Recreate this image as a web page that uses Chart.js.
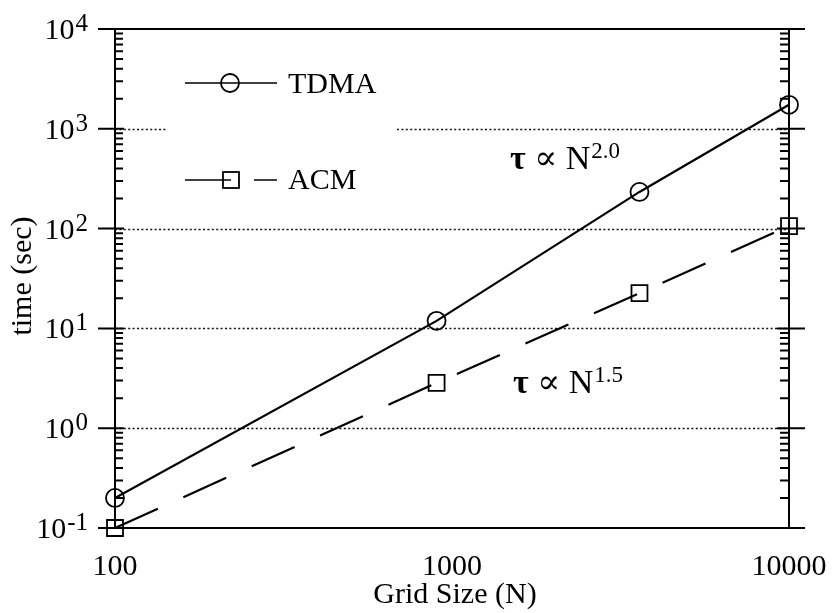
<!DOCTYPE html>
<html>
<head>
<meta charset="utf-8">
<title>TDMA vs ACM timing</title>
<script src="https://cdn.jsdelivr.net/npm/chart.js@4.4.1/dist/chart.umd.min.js"></script>
<style>
  html, body { margin: 0; padding: 0; background: #fff; }
  canvas { display: block; }
</style>
</head>
<body>
<canvas id="timeChart" width="833" height="613"></canvas>
<script>
// values
const gridSize = [100, 900, 3600, 10000];
const tdmaTime = [0.2, 11.9, 233, 1740];
const acmTime = [0.1, 2.84, 22.6, 106];
const xTickValues = [100, 1000, 10000];
const yTickValues = [0.1, 1, 10, 100, 1000, 10000];
const yTickExponents = ['-1', '0', '1', '2', '3', '4'];
const seriesNames = ['TDMA', 'ACM'];

const SERIF = '"Liberation Serif", "Times New Roman", "DejaVu Serif", serif';

function toPoints(xs, ys) {
    return xs.map(function(x, i) { return { x: x, y: ys[i] }; });
}

// draws "10" with a raised exponent, right aligned at rightX
function drawPower(ctx, exp, rightX, baseline) {
    ctx.font = '30px ' + SERIF;
    var wBase = ctx.measureText('10').width;
    ctx.font = '25px ' + SERIF;
    var wExp = ctx.measureText(exp).width;
    var x0 = rightX - wBase - wExp - 1;
    ctx.textAlign = 'left';
    ctx.textBaseline = 'alphabetic';
    ctx.font = '30px ' + SERIF;
    ctx.fillText('10', x0, baseline);
    ctx.font = '25px ' + SERIF;
    ctx.fillText(exp, x0 + wBase + 1, baseline - 8);
}

function drawLaw(ctx, exp, x, baseline) {
    ctx.textAlign = 'left';
    ctx.textBaseline = 'alphabetic';
    ctx.font = 'bold 34px ' + SERIF;
    ctx.fillText('\u03C4', x, baseline);
    var w = ctx.measureText('\u03C4').width;
    ctx.font = '34px ' + SERIF;
    ctx.fillText(' \u221D N', x + w, baseline);
    w += ctx.measureText(' \u221D N').width;
    ctx.font = '23px ' + SERIF;
    ctx.fillText(exp, x + w + 1, baseline - 11);
}

const paperAxes = {
    id: 'paperAxes',
    beforeDatasetsDraw: function(chart) {
        var ctx = chart.ctx;
        var area = chart.chartArea;
        var yScale = chart.scales.y;
        ctx.save();
        ctx.strokeStyle = '#111';
        ctx.lineWidth = 1.7;
        ctx.setLineDash([2, 2.4]);
        yTickValues.forEach(function(v) {
            if (v <= yTickValues[0] || v >= yTickValues[yTickValues.length - 1]) return;
            var py = Math.round(yScale.getPixelForValue(v)) + 0.5;
            ctx.beginPath();
            if (v === 1000) {
                // the legend sits in this gap
                ctx.moveTo(area.left, py); ctx.lineTo(167, py);
                ctx.moveTo(397, py); ctx.lineTo(area.right, py);
            } else {
                ctx.moveTo(area.left, py); ctx.lineTo(area.right, py);
            }
            ctx.stroke();
        });
        ctx.restore();
    },
    afterDraw: function(chart) {
        var ctx = chart.ctx;
        var area = chart.chartArea;
        var xScale = chart.scales.x;
        var yScale = chart.scales.y;
        ctx.save();
        ctx.strokeStyle = '#000';
        ctx.fillStyle = '#000';
        ctx.lineWidth = 2;

        // frame
        ctx.beginPath();
        ctx.moveTo(area.left - 17, area.top); ctx.lineTo(area.right + 16, area.top);
        ctx.moveTo(area.left - 17, area.bottom); ctx.lineTo(area.right + 16, area.bottom);
        ctx.moveTo(area.left, area.top); ctx.lineTo(area.left, area.bottom);
        ctx.moveTo(area.right, area.top); ctx.lineTo(area.right, area.bottom);
        ctx.stroke();

        // major and minor y ticks on both sides
        ctx.beginPath();
        yTickValues.forEach(function(v, i) {
            var py = yScale.getPixelForValue(v);
            ctx.moveTo(area.left - 17, py); ctx.lineTo(area.left + 9, py);
            ctx.moveTo(area.right - 12, py); ctx.lineTo(area.right + 16, py);
            if (i < yTickValues.length - 1) {
                for (var k = 2; k <= 9; k++) {
                    var my = yScale.getPixelForValue(v * k);
                    ctx.moveTo(area.left, my); ctx.lineTo(area.left + 8, my);
                    ctx.moveTo(area.right - 9, my); ctx.lineTo(area.right, my);
                }
            }
        });
        ctx.stroke();

        // y tick labels
        yTickValues.forEach(function(v, i) {
            drawPower(ctx, yTickExponents[i], 88, yScale.getPixelForValue(v) + 10);
        });

        // x tick labels
        ctx.font = '30px ' + SERIF;
        ctx.textAlign = 'center';
        ctx.textBaseline = 'alphabetic';
        xTickValues.forEach(function(v) {
            ctx.fillText(String(v), xScale.getPixelForValue(v), 575);
        });

        // axis titles
        ctx.fillText('Grid Size (N)', 455, 603);
        ctx.save();
        ctx.translate(31, 276);
        ctx.rotate(-Math.PI / 2);
        ctx.fillText('time (sec)', 0, 0);
        ctx.restore();

        // legend
        ctx.lineWidth = 1.6;
        ctx.beginPath();
        ctx.moveTo(185, 83); ctx.lineTo(277, 83);
        ctx.stroke();
        ctx.lineWidth = 1.8;
        ctx.beginPath();
        ctx.arc(230, 83, 9, 0, Math.PI * 2);
        ctx.stroke();
        ctx.lineWidth = 1.6;
        ctx.beginPath();
        ctx.moveTo(185, 180); ctx.lineTo(231, 180);
        ctx.moveTo(254, 180); ctx.lineTo(277, 180);
        ctx.stroke();
        ctx.lineWidth = 1.8;
        ctx.strokeRect(223, 172, 16, 16);
        ctx.font = '30px ' + SERIF;
        ctx.textAlign = 'left';
        ctx.fillText(seriesNames[0], 288, 93);
        ctx.fillText(seriesNames[1], 288, 189);

        // scaling laws
        drawLaw(ctx, '2.0', 510, 169);
        drawLaw(ctx, '1.5', 513, 393);

        ctx.restore();
    }
};

var ctx = document.getElementById('timeChart').getContext('2d');
var timeChart = new Chart(ctx, {
    type: 'line',
    data: {
        datasets: [{
            label: seriesNames[0],
            data: toPoints(gridSize, tdmaTime),
            borderColor: '#000',
            borderWidth: 2.2,
            pointStyle: 'circle',
            pointRadius: 9,
            pointBorderWidth: 1.8,
            pointBorderColor: '#000',
            pointBackgroundColor: 'rgba(0,0,0,0)',
            tension: 0,
            clip: false
        }, {
            label: seriesNames[1],
            data: toPoints(gridSize, acmTime),
            borderColor: '#000',
            borderWidth: 2.2,
            borderDash: [47, 28],
            pointStyle: 'rect',
            pointRadius: 11.3,
            pointBorderWidth: 1.8,
            pointBorderColor: '#000',
            pointBackgroundColor: 'rgba(0,0,0,0)',
            tension: 0,
            clip: false
        }]
    },
    options: {
        responsive: false,
        animation: false,
        layout: {
            padding: { left: 115, right: 44, top: 29, bottom: 85 }
        },
        plugins: {
            legend: { display: false },
            tooltip: { enabled: false }
        },
        scales: {
            x: {
                type: 'logarithmic',
                min: 100,
                max: 10000,
                display: false
            },
            y: {
                type: 'logarithmic',
                min: 0.1,
                max: 10000,
                display: false
            }
        }
    },
    plugins: [paperAxes]
});
</script>
</body>
</html>
